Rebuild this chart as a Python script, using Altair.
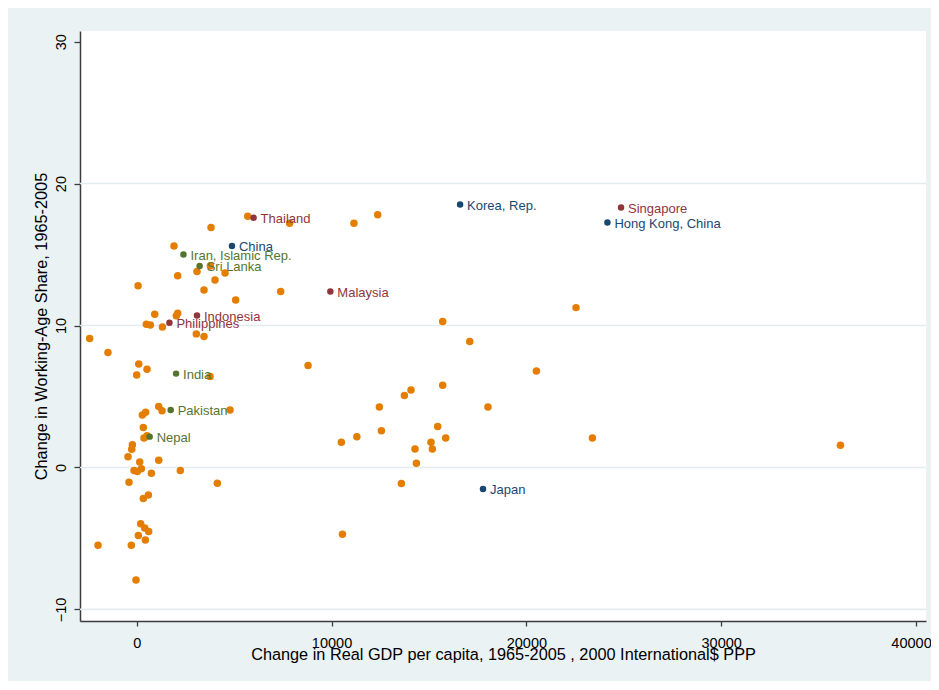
import altair as alt
import pandas as pd

# Other countries (orange)
other_x = [5700, 7850, 11150, 12370, 3815, 1915, 3780, 3095, 4535, 2105,
           4020, 70, 3455, 7390, 5080, 925, 2105, 2035, 495, 700,
           1320, 15705, 3060, 3455, -2415, 17095, -1475, 105, 530, 0,
           3765, 8795, 1130, 1300, 4790, 290, 460, 340, 375, 530,
           -220, -255, -445, 155, 1130, -135, 35, 240, 755, 2240,
           -395, 4140, 600, 340, 205, 410, 615, 85, 445, -275,
           -1985, -35, 10560, 10505, 11300, 22550, 20515, 14080, 13740, 15705,
           12455, 18030, 12560, 15450, 15105, 15860, 14285, 15175, 14355, 23390,
           13585, 36120]
other_y = [17.7, 17.2, 17.2, 17.8, 16.9, 15.6, 14.2, 13.8, 13.7, 13.5,
           13.2, 12.8, 12.5, 12.4, 11.8, 10.8, 10.87, 10.68, 10.09, 10.04,
           9.9, 10.28, 9.41, 9.22, 9.08, 8.87, 8.09, 7.29, 6.92, 6.52,
           6.40, 7.18, 4.29, 4.0, 4.05, 3.70, 3.89, 2.81, 2.08, 2.24,
           1.59, 1.28, 0.76, 0.39, 0.51, -0.22, -0.29, -0.1, -0.41, -0.22,
           -1.05, -1.12, -1.94, -2.19, -3.96, -4.26, -4.52, -4.80, -5.11, -5.49,
           -5.49, -7.93, -4.70, 1.77, 2.17, 11.26, 6.80, 5.46, 5.06, 5.79,
           4.26, 4.26, 2.59, 2.88, 1.77, 2.08, 1.30, 1.30, 0.29, 2.08,
           -1.14, 1.56]

# Highlighted countries
lab_names = ["Thailand", "China", "Iran, Islamic Rep.", "Sri Lanka", "Malaysia",
             "Indonesia", "Philippines", "India", "Pakistan", "Nepal",
             "Korea, Rep.", "Singapore", "Hong Kong, China", "Japan"]
lab_x = [6000, 4890, 2400, 3230, 9940, 3095, 1680, 2020, 1745, 665,
         16600, 24860, 24160, 17775]
lab_y = [17.6, 15.6, 15.0, 14.2, 12.39, 10.7, 10.2, 6.61, 4.05, 2.17,
         18.52, 18.31, 17.25, -1.52]
lab_group = ["se", "ne", "sa", "sa", "se", "se", "se", "sa", "sa", "sa",
             "ne", "se", "ne", "ne"]

grid_values = [-10, 0, 10, 20]
x_ticks = [0, 10000, 20000, 30000, 40000]
y_ticks = [-10, 0, 10, 20, 30]

group_domain = ["ne", "se", "sa"]
group_colors = ["#1a476f", "#90353b", "#55752f"]

FONT = "Liberation Sans"

others = pd.DataFrame({"x": other_x, "y": other_y})
labeled = pd.DataFrame({"name": lab_names, "x": lab_x, "y": lab_y, "g": lab_group})
grid = pd.DataFrame({"x": [None] * len(grid_values), "y": grid_values})

xscale = alt.Scale(domain=[-2910, 40512], nice=False, zero=False)
yscale = alt.Scale(domain=[-10.82, 30.75], nice=False, zero=False)
cscale = alt.Scale(domain=group_domain, range=group_colors)

x_axis = alt.Axis(
    values=x_ticks, format="d", grid=False,
    labelFontSize=14.5, titleFontSize=16.3, labelFont=FONT, titleFont=FONT,
    labelColor="#000000", titleColor="#000000", titleFontWeight="normal",
    domainColor="#3c3c3c", domainWidth=1.5, tickColor="#3c3c3c", tickWidth=1.3,
    tickSize=5, labelPadding=10, titlePadding=-3, labelFlush=False, labelOverlap=False,
    labelOffset={"condition": {"test": "datum.value == 40000", "value": -5}, "value": 0},
)
y_axis = alt.Axis(
    values=y_ticks, format="d", grid=False,
    labelFontSize=14.5, titleFontSize=16.3, labelFont=FONT, titleFont=FONT,
    labelColor="#000000", titleColor="#000000", titleFontWeight="normal",
    labelAngle=270, labelAlign="center", labelBaseline="bottom",
    domainColor="#3c3c3c", domainWidth=1.5, tickColor="#3c3c3c", tickWidth=1.3,
    tickSize=6, labelPadding=6, titlePadding=4, labelFlush=False, labelOverlap=False,
)

X = alt.X("x:Q", scale=xscale, axis=x_axis,
          title="Change in Real GDP per capita, 1965-2005 , 2000 International$ PPP")
Y = alt.Y("y:Q", scale=yscale, axis=y_axis,
          title="Change in Working-Age Share, 1965-2005")

grid_layer = alt.Chart(grid).mark_rule(color="#e4ecee", strokeWidth=1.6).encode(y=Y)

other_layer = alt.Chart(others).mark_circle(color="#e37e00", opacity=1, size=56).encode(
    x=X, y=Y
)

lab_points = alt.Chart(labeled).mark_circle(opacity=1, size=42).encode(
    x=X, y=Y,
    color=alt.Color("g:N", scale=cscale, legend=None),
)

lab_text = alt.Chart(labeled).mark_text(
    align="left", baseline="middle", dx=7, dy=1, fontSize=13, font=FONT
).encode(
    x=X, y=Y,
    text="name:N",
    color=alt.Color("g:N", scale=cscale, legend=None),
)

chart = alt.layer(grid_layer, other_layer, lab_points, lab_text).properties(
    width=846, height=590,
    autosize=alt.AutoSizeParams(type="none"),
    padding={"left": 72, "top": 23, "right": 5, "bottom": 60},
    background="#eaf2f3",
).configure_view(fill="#ffffff", stroke=None)

chart.save("out.html", embed_options={"renderer": "svg", "actions": False})
